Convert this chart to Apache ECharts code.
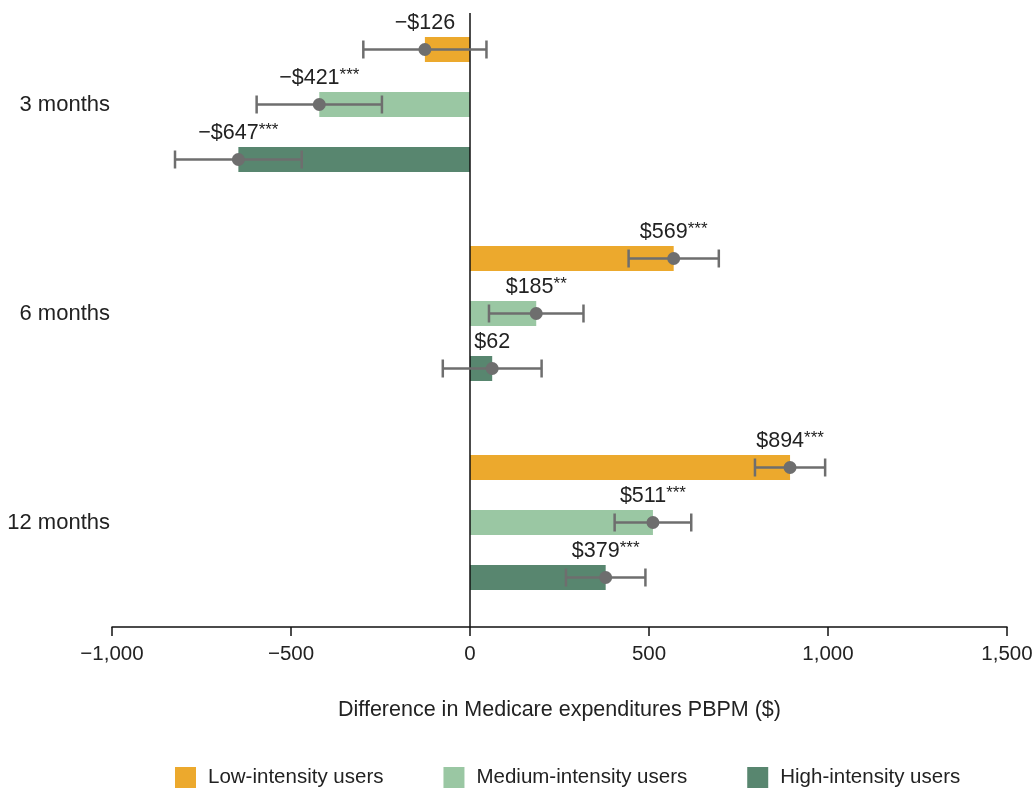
<!DOCTYPE html>
<html>
<head>
<meta charset="utf-8">
<script src="https://cdn.jsdelivr.net/npm/echarts@6/dist/echarts.min.js"></script>
<style>html,body{margin:0;padding:0;background:#fff}#c{width:1035px;height:793px}</style>
</head>
<body>
<div id="c"></div>
<script>
const categories = ['3 months', '6 months', '12 months'];
const seriesNames = ['Low-intensity users', 'Medium-intensity users', 'High-intensity users'];
const lowValues = [-126, 569, 894];
const lowCILow = [-298, 443, 796];
const lowCIHigh = [46, 695, 992];
const lowSig = ['', '***', '***'];
const mediumValues = [-421, 185, 511];
const mediumCILow = [-596, 53, 404];
const mediumCIHigh = [-246, 317, 618];
const mediumSig = ['***', '**', '***'];
const highValues = [-647, 62, 379];
const highCILow = [-824, -76, 268];
const highCIHigh = [-470, 200, 490];
const highSig = ['***', '', '***'];
const xTicks = [-1000, -500, 0, 500, 1000, 1500];

const FONT = "'Liberation Sans', Arial, sans-serif";
const colors = ['#ECA92D', '#9AC7A3', '#58866F'];
const groups = [
  {v: lowValues, lo: lowCILow, hi: lowCIHigh, sig: lowSig},
  {v: mediumValues, lo: mediumCILow, hi: mediumCIHigh, sig: mediumSig},
  {v: highValues, lo: highCILow, hi: highCIHigh, sig: highSig}
];
const BAR_W = 25, BAR_GAP = 30;

function fmtVal(v) {
  return (v < 0 ? '\u2212' : '') + '$' + Math.abs(v);
}
function fmtTick(v) {
  const s = Math.abs(v).toLocaleString('en-US');
  return (v < 0 ? '\u2212' : '') + s;
}

const series = [];
groups.forEach((g, k) => {
  series.push({
    name: seriesNames[k],
    type: 'bar',
    data: g.v,
    barWidth: BAR_W,
    barGap: (BAR_GAP / BAR_W * 100) + '%',
    itemStyle: {color: colors[k]},
    silent: true,
    z: 2,
    markLine: k === 0 ? {
      silent: true, symbol: ['none', 'none'],
      label: {show: false},
      lineStyle: {color: '#111', width: 1.5, type: 'solid'},
      data: [[{xAxis: 0, y: 13}, {xAxis: 0, y: 627}]]
    } : undefined
  });
});
groups.forEach((g, k) => {
  const data = g.v.map((v, i) => [i, v, g.lo[i], g.hi[i]]);
  series.push({
    type: 'custom',
    silent: true,
    z: 5,
    data: data,
    encode: {y: 0, x: 1},
    renderItem: function (params, api) {
      const ci = api.value(0), v = api.value(1), lo = api.value(2), hi = api.value(3);
      const sig = g.sig[ci];
      const c = api.coord([v, ci]);
      const off = (k - 1) * (BAR_W + BAR_GAP);
      const y = c[1] + off;
      const xl = api.coord([lo, ci])[0];
      const xh = api.coord([hi, ci])[0];
      const capH = 9;
      const ls = {stroke: '#6E6E6E', lineWidth: 2.5};
      return {
        type: 'group',
        children: [
          {type: 'line', shape: {x1: xl, y1: y, x2: xh, y2: y}, style: ls},
          {type: 'line', shape: {x1: xl, y1: y - capH, x2: xl, y2: y + capH}, style: ls},
          {type: 'line', shape: {x1: xh, y1: y - capH, x2: xh, y2: y + capH}, style: ls},
          {type: 'circle', shape: {cx: c[0], cy: y, r: 6.5}, style: {fill: '#6E6E6E'}},
          {type: 'text', x: c[0], y: y - BAR_W / 2 - 3,
            style: {
              text: '{v|' + fmtVal(v) + '}' + (sig ? '{s|' + sig + '}' : ''),
              align: 'center', verticalAlign: 'bottom',
              rich: {
                v: {fontFamily: FONT, fontSize: 21.5, fill: '#222', lineHeight: 22},
                s: {fontFamily: FONT, fontSize: 17, fill: '#222', lineHeight: 22, verticalAlign: 'top', padding: [0, 0, 5, 0]}
              }
            }}
        ]
      };
    }
  });
});

const chart = echarts.init(document.getElementById('c'), null, {renderer: 'canvas'});
chart.setOption({
  animation: false,
  backgroundColor: '#fff',
  grid: {left: 112, right: 28, top: 0, bottom: 166, containLabel: false, outerBoundsMode: 'none'},
  xAxis: {
    type: 'value', min: xTicks[0], max: xTicks[xTicks.length - 1], interval: 500,
    axisLine: {show: true, onZero: false, lineStyle: {color: '#111', width: 1.5}},
    axisTick: {show: true, length: 9, lineStyle: {color: '#111', width: 1.5}},
    splitLine: {show: false},
    axisLabel: {formatter: fmtTick, fontFamily: FONT, fontSize: 20.5, color: '#222', margin: 17},
    name: 'Difference in Medicare expenditures PBPM ($)',
    nameLocation: 'middle', nameGap: 72,
    nameTextStyle: {fontFamily: FONT, fontSize: 21.5, color: '#222'}
  },
  yAxis: {
    type: 'category', data: categories, inverse: true,
    axisLine: {show: false}, axisTick: {show: false},
    axisLabel: {fontFamily: FONT, fontSize: 22, color: '#222', margin: 2}
  },
  legend: {
    data: seriesNames,
    left: 170, bottom: 0, width: 900,
    itemWidth: 21, itemHeight: 21, itemGap: 60,
    icon: 'rect',
    textStyle: {fontFamily: FONT, fontSize: 20.5, color: '#222', padding: [0, 0, 0, 7]}
  },
  series: series
});
</script>
</body>
</html>
